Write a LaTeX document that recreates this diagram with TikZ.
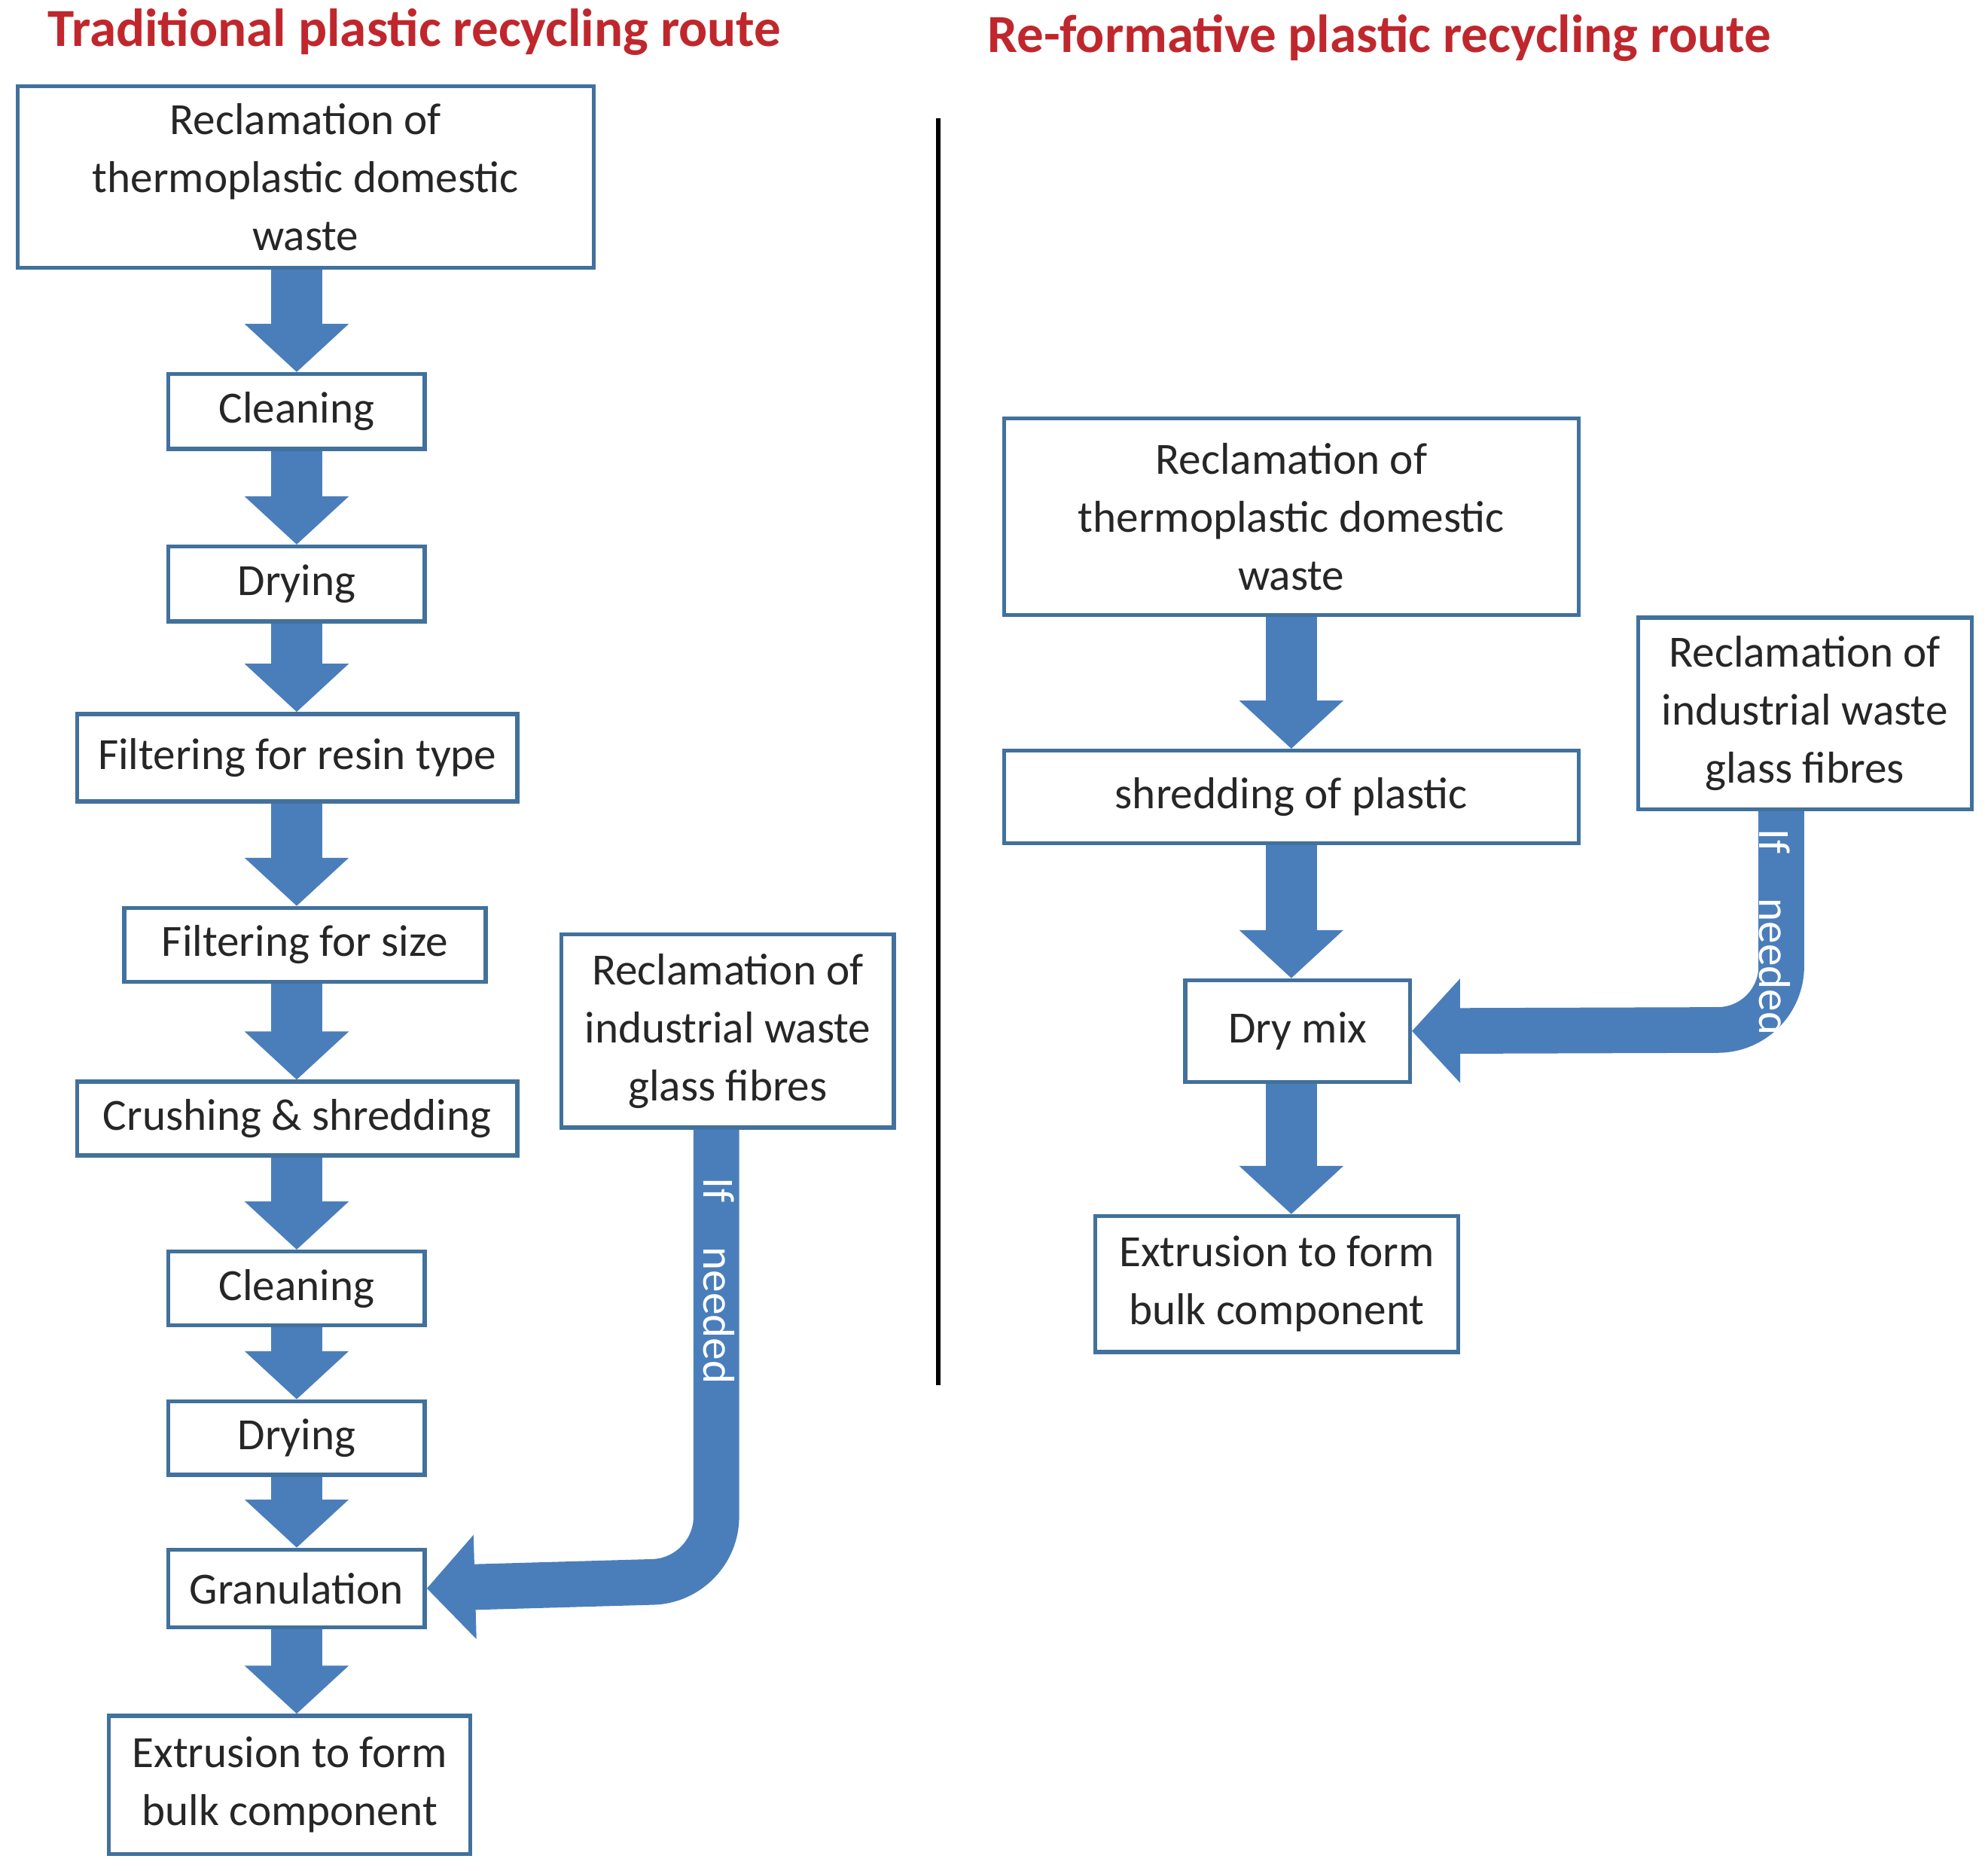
\documentclass[tikz,border=0pt]{standalone}
\usepackage{fontspec}
\setmainfont{Carlito}
\usetikzlibrary{arrows.meta}
\definecolor{flowblue}{HTML}{4A7EBB}
\definecolor{boxline}{HTML}{41719C}
\definecolor{titlered}{HTML}{C0272D}
\tikzset{
  stage/.style={draw=boxline, line width=0.9pt, align=center, inner sep=1pt,
    font=\fontsize{10}{13}\selectfont, text=black!85},
  flow/.style={draw=flowblue, line width=0.4cm,
    -{Triangle[width=0.8cm,length=0.38cm]}},
  feed/.style={draw=flowblue, line width=0.36cm, rounded corners=0.5cm,
    -{Triangle[width=0.8cm,length=0.38cm]}},
  title/.style={text=titlered, font=\fontsize{12}{14}\selectfont\bfseries}
}
\begin{document}
\begin{tikzpicture}[x=0.01cm, y=-0.01cm]
\useasboundingbox (0,0) rectangle (1568,1475);

% titles and divider
\node[title] (tl) at (327,25) {Traditional plastic recycling route};
\node[title] (tr) at (1088,30) {Re-formative plastic recycling route};
\draw[line width=1pt] (740,93) -- (740,1092);

% traditional route
\node[stage, minimum width=4.54cm, minimum height=1.43cm] (r1) at (241,139.5) {Reclamation of\\thermoplastic domestic\\waste};
\node[stage, minimum width=2.02cm, minimum height=0.59cm] (c1) at (234,324.5) {Cleaning};
\node[stage, minimum width=2.02cm, minimum height=0.59cm] (d1) at (234,460.5) {Drying};
\node[stage, minimum width=3.47cm, minimum height=0.69cm] (f1) at (234.5,597.5) {Filtering for resin type};
\node[stage, minimum width=2.85cm, minimum height=0.58cm] (f2) at (240.5,745) {Filtering for size};
\node[stage, minimum width=3.47cm, minimum height=0.58cm] (cr) at (234.5,882) {Crushing \& shredding};
\node[stage, minimum width=2.02cm, minimum height=0.58cm] (c2) at (234,1016) {Cleaning};
\node[stage, minimum width=2.02cm, minimum height=0.58cm] (d2) at (234,1134) {Drying};
\node[stage, minimum width=2.02cm, minimum height=0.61cm] (gr) at (234,1252.5) {Granulation};
\node[stage, minimum width=2.85cm, minimum height=1.09cm] (e1) at (228.5,1407.5) {Extrusion to form\\bulk component};
\node[stage, minimum width=2.62cm, minimum height=1.52cm] (i1) at (574,813) {Reclamation of\\industrial waste\\glass fibres};

\draw[flow] (c1.north |- r1.south) -- (c1.north);
\draw[flow] (c1.south) -- (d1.north);
\draw[flow] (d1.south) -- (d1.south |- f1.north);
\draw[flow] (d1.south |- f1.south) -- (d1.south |- f2.north);
\draw[flow] (d1.south |- f2.south) -- (d1.south |- cr.north);
\draw[flow] (c2.north |- cr.south) -- (c2.north);
\draw[flow] (c2.south) -- (d2.north);
\draw[flow] (d2.south) -- (gr.north);
\draw[flow] (gr.south) -- (gr.south |- e1.north);
\draw[feed] (i1.south -| 565,0) -- (565,1246) -- (gr.east);
\node[rotate=-90, text=white, font=\fontsize{10}{12}\selectfont] (n1) at (567,1010) {If\quad needed};

% re-formative route
\node[stage, minimum width=4.53cm, minimum height=1.55cm] (r2) at (1018.5,407.5) {Reclamation of\\thermoplastic domestic\\waste};
\node[stage, minimum width=4.53cm, minimum height=0.73cm] (sh) at (1018.5,628.5) {shredding of plastic};
\node[stage, minimum width=1.77cm, minimum height=0.80cm] (dm) at (1023.5,813) {Dry mix};
\node[stage, minimum width=2.86cm, minimum height=1.07cm] (e2) at (1007,1012.5) {Extrusion to form\\bulk component};
\node[stage, minimum width=2.63cm, minimum height=1.51cm] (i2) at (1423.5,562.5) {Reclamation of\\industrial waste\\glass fibres};

\draw[flow] (r2.south) -- (sh.north);
\draw[flow] (sh.south) -- (sh.south |- dm.north);
\draw[flow] (sh.south |- dm.south) -- (sh.south |- e2.north);
\draw[feed] (i2.south -| 1405,0) -- (1405,812) -- (dm.east);
\node[rotate=-90, text=white, font=\fontsize{10}{12}\selectfont] (n2) at (1400,735) {If\quad needed};
\end{tikzpicture}
\end{document}
